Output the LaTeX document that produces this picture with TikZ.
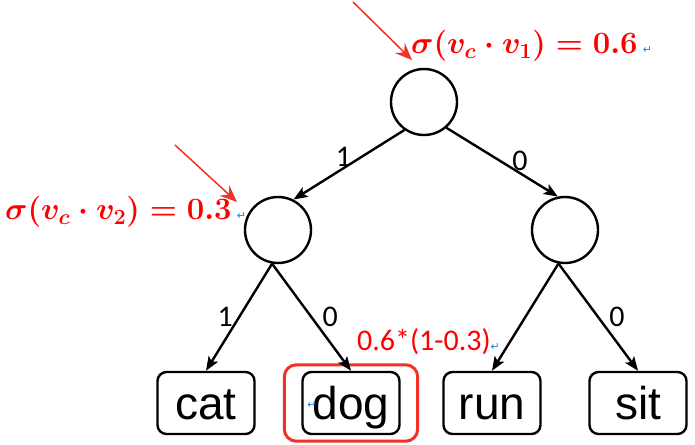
\RequirePackage{fix-cm}
\documentclass[tikz,border=0pt]{standalone}
\usepackage{fontspec}
\newfontfamily\leaffont{Liberation Sans}
\newfontfamily\notefont{Carlito}
\newfontfamily\markfont{DejaVu Sans}
\usetikzlibrary{arrows.meta,positioning,fit}
\definecolor{hsred}{RGB}{255,0,0}
\definecolor{hsarrow}{RGB}{240,50,40}
\definecolor{hsblue}{RGB}{30,130,230}
\newcommand{\retmark}{{\markfont\fontsize{11}{11}\selectfont\textcolor{hsblue}{↵}}}

\begin{document}
\begin{tikzpicture}[x=1pt, y=-1pt,
    inode/.style={draw, circle, line width=2.4pt, minimum size=66pt, inner sep=0pt},
    leaf/.style={draw, rounded corners=9pt, line width=2.4pt,
                 minimum width=97pt, minimum height=62pt, inner sep=0pt,
                 text height=32pt, text depth=0pt,
                 font=\leaffont\fontsize{46}{46}\selectfont},
    edge/.style={line width=2.4pt, -{Stealth[length=14pt,width=11pt,inset=3pt]}},
    bit/.style={font=\notefont\fontsize{30}{30}\selectfont, inner sep=1pt},
    prob/.style={text=hsred, inner sep=0pt, font=\fontsize{31}{33}\selectfont\boldmath},
    pointer/.style={hsarrow, line width=1.5pt, -{Stealth[length=17pt,width=14pt,inset=6pt]}},
    hilite/.style={draw=hsarrow, rounded corners=12pt, line width=3pt},
]
\useasboundingbox (0,0) rectangle (695,444);

\node[inode] (root)   at (424,102) {};
\node[inode] (nleft)  at (278,230) {};
\node[inode] (nright) at (565,230) {};

\node[leaf] (wcat) at (206,403) {cat};
\node[leaf] (wdog) at (351,403) {dog};
\node[leaf] (wrun) at (492,403) {run};
\node[leaf] (wsit) at (638,403) {sit};

\node[hilite, fit=(wdog), inner xsep=17pt, inner ysep=6pt] (pick) {};

\draw[edge] (root.235) -- node[bit, pos=.55, above] {1} (nleft.63);
\draw[edge] (root.311) -- node[bit, pos=.66, above] {0} (nright.102);
\draw[edge] (nleft.260) -- node[bit, left=4pt] {1} (wcat.north);
\draw[edge] (nleft.260) -- node[bit, right=9pt] {0} (wdog.north);
\draw[edge] (nright.259) -- (wrun.north);
\draw[edge] (nright.259) -- node[bit, right=9pt] {0} (wsit.north);

% red notes
\node[prob, anchor=west] (p1) at (411,46) {$\sigma(v_c\cdot v_1)=0.6$\,\retmark};
\node[prob, anchor=west] (p2) at (5,212) {$\sigma(v_c\cdot v_2)=0.3$\,\retmark};
\node[anchor=west, text=hsred, inner sep=0pt,
      font=\notefont\fontsize{30}{30}\selectfont] (p3) at (357,342) {0.6*(1-0.3)\retmark};
\node[inner sep=0pt] (m4) at (312,405) {\retmark};

\coordinate (t1) at (353,2);
\coordinate (h1) at (412,60);
\coordinate (t2) at (175,145);
\coordinate (h2) at (237,202);
\draw[pointer] (t1) -- (h1);
\draw[pointer] (t2) -- (h2);
\end{tikzpicture}
\end{document}
